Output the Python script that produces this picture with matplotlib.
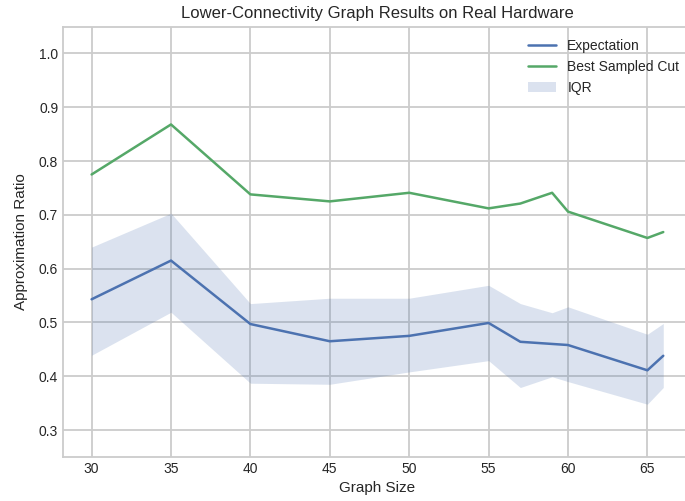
import matplotlib
matplotlib.use("Agg")
import matplotlib.pyplot as plt
import numpy as np

plt.style.use("seaborn-v0_8-whitegrid")
plt.rcParams["font.family"] = ["Liberation Sans", "DejaVu Sans"]

graph_sizes = [30, 35, 40, 45, 50, 55, 57, 59, 60, 65, 66]
expectation = [0.543, 0.615, 0.497, 0.465, 0.475, 0.499, 0.464, 0.460, 0.458, 0.411, 0.438]
best_cut = [0.775, 0.868, 0.738, 0.725, 0.741, 0.712, 0.721, 0.741, 0.706, 0.657, 0.668]
iqr_low = [0.439, 0.519, 0.387, 0.385, 0.408, 0.429, 0.379, 0.399, 0.390, 0.348, 0.379]
iqr_high = [0.640, 0.703, 0.535, 0.545, 0.545, 0.569, 0.535, 0.518, 0.529, 0.478, 0.498]

fig = plt.figure(figsize=(6.85, 5.01), dpi=100)
ax = fig.add_axes([0.092, 0.088, 0.918, 0.859])

ax.plot(graph_sizes, expectation, color="#4C72B0", lw=1.8, label="Expectation")
ax.plot(graph_sizes, best_cut, color="#55A868", lw=1.8, label="Best Sampled Cut")
ax.fill_between(graph_sizes, iqr_low, iqr_high, color="#4C72B0", alpha=0.2, lw=0, label="IQR")

ax.set_ylim(0.25, 1.05)
ax.set_xlim(28.2, 67.8)
ax.set_xticks([30, 35, 40, 45, 50, 55, 60, 65])
ax.set_yticks(np.arange(0.3, 1.01, 0.1))
ax.grid(True, color="#cccccc", lw=1.3)
for s in ax.spines.values():
    s.set_color("#cccccc")
    s.set_linewidth(1.3)
ax.tick_params(labelsize=10, colors="#262626")
ax.set_xlabel("Graph Size", fontsize=11, color="#262626")
ax.set_ylabel("Approximation Ratio", fontsize=11, color="#262626", labelpad=8)
ax.set_title("Lower-Connectivity Graph Results on Real Hardware", fontsize=12, color="#262626")
ax.legend(loc="upper right", frameon=False, fontsize=10)

fig.savefig("out.png", dpi=100)
